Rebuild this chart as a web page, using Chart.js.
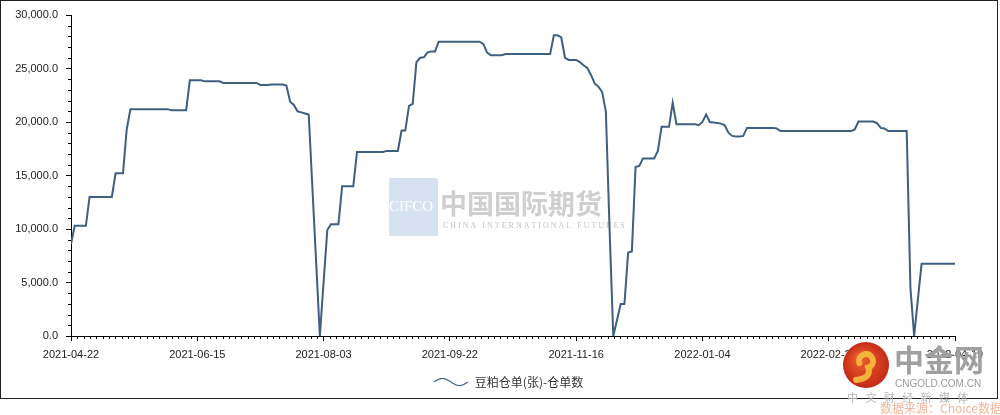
<!DOCTYPE html>
<html>
<head>
<meta charset="utf-8">
<script src="https://cdn.jsdelivr.net/npm/chart.js@4"></script>
<style>
  body { margin: 0; background: #fff; }
  canvas { display: block; }
</style>
</head>
<body>
<canvas id="chart" width="1000" height="415"></canvas>
<script>
// tick labels along the date axis, one every 34 trading days
const tickLabels = ["2021-04-22", "2021-06-15", "2021-08-03", "2021-09-22", "2021-11-16", "2022-01-04", "2022-02-28", "2022-04-19"];
const seriesName = "豆粕仓单(张)-仓单数";

// daily warehouse receipts
const receipts = [
  8600, 10300, 10300, 10300, 10300, 13000, 13000, 13000, 13000, 13000, 13000, 13000, 15200, 15200, 15200, 19300,
  21200, 21200, 21200, 21200, 21200, 21200, 21200, 21200, 21200, 21200, 21200, 21100, 21100, 21100, 21100, 21100,
  23900, 23900, 23900, 23900, 23800, 23800, 23800, 23800, 23800, 23650, 23650, 23650, 23650, 23650, 23650, 23650, 23650, 23650, 23650, 23450, 23450, 23450, 23500, 23500, 23500, 23500, 23400,
  21900, 21600, 21000, 20900, 20800, 20700, 13800, 6900, 0, 5000, 9900,
  10450, 10450, 10450, 14000, 14000, 14000, 14000, 17200, 17200, 17200, 17200, 17200, 17200, 17200, 17200, 17300, 17300, 17300, 17300, 19200, 19200,
  21500, 21700, 25600, 26000, 26050, 26500, 26600, 26600, 27500, 27500, 27500, 27500, 27500, 27500, 27500, 27500, 27500, 27500, 27500, 27500,
  27300, 26500, 26250, 26250, 26250, 26250, 26350, 26350, 26350, 26350, 26350, 26350, 26350, 26350, 26350, 26350, 26350, 26350, 26350, 28100, 28100, 27900, 26000, 25800, 25800, 25800,
  25600, 25300, 25050, 24400, 23600, 23300, 22800, 21000, 10000, 0, 1500, 3000, 3000, 7800, 7900, 15800, 15900, 16600, 16600, 16600, 16600, 17300, 19550, 19550, 19550,
  21800, 19800, 19800, 19800, 19800, 19800, 19800, 19700, 20000, 20700, 20000, 19950, 19900, 19850, 19700, 19000, 18700, 18650, 18650, 18700, 19450, 19450, 19450, 19450, 19450, 19450, 19450, 19450, 19400,
  19150, 19150, 19150, 19150, 19150, 19150, 19150, 19150, 19150, 19150, 19150, 19150, 19150, 19150, 19150, 19150, 19150, 19150, 19150, 19150, 19300, 20050, 20050, 20050, 20050, 20050, 19900, 19450, 19400, 19150, 19150, 19150, 19150, 19150, 19150, 4500, 0, 3400, 6750, 6750, 6750, 6750, 6750, 6750, 6750, 6750, 6750, 6750
];
const days = receipts.map((v, i) => i);

const lineColor = "#3f5f80";

// little wave used as the legend symbol
function waveIcon() {
  const c = document.createElement("canvas");
  c.width = 36; c.height = 12;
  const g = c.getContext("2d");
  g.strokeStyle = lineColor;
  g.lineWidth = 1.2;
  g.beginPath();
  for (let i = 0; i <= 34; i++) {
    const yy = 6 - 3.5 * Math.sin(i / 34 * Math.PI * 2);
    if (i === 0) g.moveTo(i + 1, yy); else g.lineTo(i + 1, yy);
  }
  g.stroke();
  return c;
}

const minorTicks = {
  id: "minorTicks",
  afterDraw(chart) {
    const { ctx, chartArea, scales: { x, y } } = chart;
    ctx.save();
    ctx.strokeStyle = "#000";
    ctx.lineWidth = 1;
    ctx.beginPath();
    for (let v = 0; v <= 30000; v += 1000) {
      if (v % 5000 === 0) continue;
      const py = Math.round(y.getPixelForValue(v)) + 0.5;
      ctx.moveTo(chartArea.left - 3, py);
      ctx.lineTo(chartArea.left, py);
    }
    for (let k = 0; k <= 140; k++) {
      if (k % 20 === 0) continue;
      const px = Math.round(x.getPixelForValue(k * 1.7)) + 0.5;
      ctx.moveTo(px, chartArea.bottom);
      ctx.lineTo(px, chartArea.bottom + 3);
    }
    ctx.stroke();
    ctx.restore();
  }
};

// legend is centred on the whole frame, not on the padded area
const legendShift = {
  id: "legendShift",
  afterLayout(chart) {
    chart.legend.left = 16;
    chart.legend.right = chart.width;
  }
};

// watermarks and the outer frame
const decor = {
  id: "decor",
  beforeDatasetsDraw(chart) {
    const ctx = chart.ctx;
    ctx.save();
    ctx.fillStyle = "#d6e2ef";
    ctx.fillRect(389, 178, 49, 58);
    ctx.fillStyle = "#fff";
    ctx.font = "15px 'Liberation Serif'";
    ctx.textBaseline = "middle";
    ctx.fillText("CIFCO", 389, 207);
    ctx.fillStyle = "#cfcfcf";
    ctx.font = "bold 27px 'Noto Sans CJK SC'";
    ctx.fillText("中国国际期货", 440, 204);
    ctx.font = "8px 'Liberation Serif'";
    ctx.fillStyle = "#c4c4c4";
    ctx.fillText("C H I N A   I N T E R N A T I O N A L   F U T U R E S", 443, 226);
    ctx.restore();
  },
  afterDraw(chart) {
    const ctx = chart.ctx;
    ctx.save();
    ctx.strokeStyle = "#222";
    ctx.lineWidth = 1;
    ctx.strokeRect(0.5, 0.5, 997, 398);

    const grd = ctx.createRadialGradient(860, 358, 4, 866, 365, 23);
    grd.addColorStop(0, "#e85a2a");
    grd.addColorStop(1, "#c42a18");
    ctx.fillStyle = grd;
    ctx.beginPath();
    ctx.arc(866, 365, 23, 0, Math.PI * 2);
    ctx.fill();
    ctx.strokeStyle = "#f6b23a";
    ctx.lineWidth = 6;
    ctx.lineCap = "round";
    ctx.beginPath();
    ctx.arc(866, 361, 7, Math.PI * 0.9, Math.PI * 2.4);
    ctx.quadraticCurveTo(872, 378, 856, 380);
    ctx.stroke();

    ctx.textBaseline = "middle";
    ctx.fillStyle = "#a0a0a0";
    ctx.font = "bold 30px 'Noto Sans CJK SC'";
    ctx.fillText("中金网", 894, 360);
    ctx.font = "10px 'Liberation Sans'";
    ctx.fillStyle = "#9a9a9a";
    ctx.fillText("CNGOLD.COM.CN", 895, 384);
    ctx.font = "11px 'Noto Sans CJK SC'";
    ctx.fillStyle = "#b8b8b8";
    ctx.fillText("中   文   财   经   新   媒   体", 847, 398);
    ctx.font = "12px 'Noto Sans CJK SC'";
    ctx.fillStyle = "#f1b79c";
    ctx.fillText("数据来源：Choice数据", 880, 408);
    ctx.restore();
  }
};

const tickFont = { family: "'Liberation Sans', Arial, sans-serif", size: 11 };

new Chart(document.getElementById("chart"), {
  type: "line",
  data: {
    labels: days,
    datasets: [{
      label: seriesName,
      data: receipts,
      borderColor: lineColor,
      backgroundColor: lineColor,
      borderWidth: 2,
      pointRadius: 0,
      tension: 0,
      pointStyle: waveIcon()
    }]
  },
  options: {
    responsive: false,
    animation: false,
    devicePixelRatio: 1,
    layout: { padding: { left: 0, top: 15, right: 45, bottom: 17 } },
    plugins: {
      tooltip: { enabled: false },
      legend: {
        position: "bottom",
        labels: {
          usePointStyle: true,
          pointStyleWidth: 36,
          color: "#333",
          font: { family: "'Noto Sans CJK SC', sans-serif", size: 12 },
          padding: 10
        }
      }
    },
    scales: {
      x: {
        type: "linear",
        min: 0,
        max: 238,
        grid: { drawOnChartArea: false, tickLength: 5, color: "#000" },
        border: { color: "#000" },
        afterFit: s => { s.height = 30; },
        ticks: {
          stepSize: 34,
          autoSkip: false,
          maxRotation: 0,
          padding: 7,
          color: "#222",
          font: tickFont,
          callback: v => tickLabels[Math.round(v / 34)]
        }
      },
      y: {
        min: 0,
        max: 30000,
        grid: { drawOnChartArea: false, tickLength: 5, color: "#000" },
        border: { color: "#000" },
        afterFit: s => { s.width = 71; },
        ticks: {
          stepSize: 5000,
          padding: 8,
          color: "#222",
          font: tickFont,
          callback: v => v.toLocaleString("en-US", { minimumFractionDigits: 1, maximumFractionDigits: 1 })
        }
      }
    }
  },
  plugins: [minorTicks, legendShift, decor]
});
</script>
</body>
</html>
